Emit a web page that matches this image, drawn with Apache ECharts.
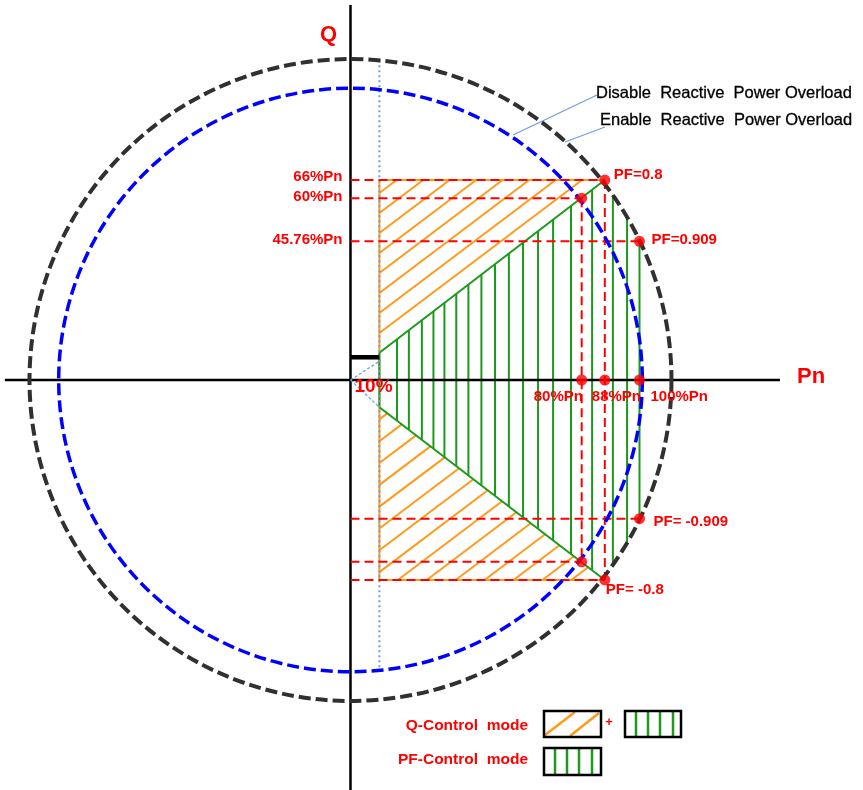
<!DOCTYPE html>
<html><head><meta charset="utf-8">
<script src="https://cdn.jsdelivr.net/npm/echarts@6/dist/echarts.min.js"></script>
<style>html,body{margin:0;padding:0;background:#fff}#c{width:863px;height:790px}</style>
</head><body><div id="c"></div>
<script>
// ---------- data (all values in % of Pn) ----------
const circleRadii = [110, 100];              // black: 110 %, blue: 100 %
const qLevels = [66, 60, 45.76];
const qLabels = ['66%Pn', '60%Pn', '45.76%Pn'];
const qLevelEndP = [88, 80, 100];            // where each Q level line ends
const pLevels = [80, 88, 100];
const pLabels = ['80%Pn', '88%Pn', '100%Pn'];
const pLevelEndQ = [60, 66, 0];              // vertical guide reach (+/-)
const minP = 10;                              // 10 % Pn
const minPLabel = '10%';
const pfStartQ = 9;                           // Q at 10 % Pn where PF region starts
const markerQ = 7.5;
const pfPoints = [[88, 66], [100, 45.76], [100, -45.76], [88, -66]];
const pfLabels = ['PF=0.8', 'PF=0.909', 'PF= -0.909', 'PF= -0.8'];
const limitPoints = [[80, 60], [80, -60]];
const pfHatchX = [16.1, 20.2, 24.7, 28.7, 32.5, 36.6, 40.8, 45.3, 50.0, 54.8, 59.7, 64.9, 70.1, 76.3, 83.6, 90.8, 95.7, 100];
const qCornerP = 88, qCornerQ = 66;

// ---------- scales (px per % Pn) ----------
const XMIN = -121.28, XMAX = 177.34, YMIN = -135.31, YMAX = 125.41;
const xs = 863 / (XMAX - XMIN), ys = 790 / (YMAX - YMIN);
const cs = 2.918;                             // circle radius px per %
function circleQ(r, p) { const v = (r * cs) * (r * cs) - (p * xs) * (p * xs); return v > 0 ? Math.sqrt(v) / ys : 0; }

// ---------- geometry helpers ----------
const RED = '#ff0000', ORANGE = '#ff9a1a', GREEN = '#1c9a1c', LBLUE = '#6f9fd6';
function clipLine(p, d, poly) {
  let t0 = -1e6, t1 = 1e6, area = 0;
  for (let i = 0; i < poly.length; i++) { const a = poly[i], b = poly[(i + 1) % poly.length]; area += a[0] * b[1] - b[0] * a[1]; }
  const sgn = area > 0 ? 1 : -1;
  for (let i = 0; i < poly.length; i++) {
    const a = poly[i], b = poly[(i + 1) % poly.length];
    const ex = b[0] - a[0], ey = b[1] - a[1];
    const nx = -ey * sgn, ny = ex * sgn;
    const num = nx * (p[0] - a[0]) + ny * (p[1] - a[1]);
    const den = nx * d[0] + ny * d[1];
    if (Math.abs(den) < 1e-12) { if (num < 0) return null; continue; }
    const t = -num / den;
    if (den > 0) t0 = Math.max(t0, t); else t1 = Math.min(t1, t);
  }
  if (t0 >= t1) return null;
  return [p[0] + t0 * d[0], p[1] + t0 * d[1], p[0] + t1 * d[0], p[1] + t1 * d[1]];
}
const R = circleRadii[0];
function pfTop(x) {
  const diag = pfStartQ + (qCornerQ - pfStartQ) * (x - minP) / (qCornerP - minP);
  return x <= qCornerP ? diag : Math.min(diag, circleQ(R, x));
}

// Orange (Q-control) hatch
const topTri = [[minP, pfStartQ], [minP, qCornerQ], [qCornerP, qCornerQ]];
const botTri = [[minP, -pfStartQ], [qCornerP, -qCornerQ], [minP, -qCornerQ]];
const hatchDir = [1, 0.72];
const orangeSegs = [];
for (let k = 0; k < 12; k++) { const s = clipLine([minP, 15.5 + k * 6.6], hatchDir, topTri); if (s) orangeSegs.push(s); }
for (let k = 0; k < 24; k++) { const s = clipLine([minP, -13 - k * 7.2], hatchDir, botTri); if (s) orangeSegs.push(s); }
const orangeBorder = [[minP, qCornerQ, qCornerP, qCornerQ], [minP, -qCornerQ, qCornerP, -qCornerQ], [minP, -qCornerQ, minP, qCornerQ]];

// Green (PF-control) region
const greenSegs = pfHatchX.map(x => [x, pfTop(x), x, -pfTop(x)]);
greenSegs.push([minP, pfStartQ, qCornerP, qCornerQ], [minP, -pfStartQ, qCornerP, -qCornerQ], [minP, -pfStartQ, minP, pfStartQ]);

// Red dashed guides
const redSegs = [];
qLevels.forEach((q, i) => { redSegs.push([0, q, qLevelEndP[i], q], [0, -q, qLevelEndP[i], -q]); });
pLevels.forEach((p, i) => { if (pLevelEndQ[i] > 0) redSegs.push([p, pLevelEndQ[i], p, -pLevelEndQ[i]]); });

const dots = limitPoints.concat(pfPoints, pLevels.map(p => [p, 0]));

// ---------- renderers ----------
function segSeries(name, data, style, z) {
  return {
    type: 'custom', name, z, silent: true, data, encode: { x: [0, 2], y: [1, 3] },
    renderItem: (params, api) => {
      const a = api.coord([api.value(0), api.value(1)]);
      const b = api.coord([api.value(2), api.value(3)]);
      return { type: 'line', shape: { x1: a[0], y1: a[1], x2: b[0], y2: b[1] }, style: Object.assign({ fill: null }, style) };
    }
  };
}
const circleStyles = [
  { stroke: '#303030', lineWidth: 4, lineDash: [12, 5] },
  { stroke: '#0000ff', lineWidth: 3.5, lineDash: [12, 5] }
];
const FONT = "bold 15px 'Liberation Sans', Arial, sans-serif";

// labels: [x, y, text, align, dx, dy]
const textItems = [];
const qOff = [-3, -1, -1];
qLevels.forEach((q, i) => textItems.push([0, q, qLabels[i], 'right', -8, qOff[i]]));
const pOff = [[-48, 17], [-13, 17], [11, 17]];
pLevels.forEach((p, i) => textItems.push([p, 0, pLabels[i], 'left', pOff[i][0], pOff[i][1]]));
const pfOff = [[9, -5], [12, -1], [14, 3], [1, 10]];
pfPoints.forEach((pt, i) => textItems.push([pt[0], pt[1], pfLabels[i], 'left', pfOff[i][0], pfOff[i][1]]));

const chart = echarts.init(document.getElementById('c'), null, { renderer: 'canvas' });
chart.setOption({
  animation: false,
  backgroundColor: '#fff',
  grid: { left: 0, right: 0, top: 0, bottom: 0, containLabel: false },
  xAxis: { type: 'value', min: XMIN, max: XMAX, show: false },
  yAxis: { type: 'value', min: YMIN, max: YMAX, show: false },
  series: [
    segSeries('qHatch', orangeSegs, { stroke: ORANGE, lineWidth: 2 }, 2),
    segSeries('qBorder', orangeBorder, { stroke: ORANGE, lineWidth: 2 }, 2),
    segSeries('pfHatch', greenSegs, { stroke: GREEN, lineWidth: 2 }, 3),
    segSeries('axes', [[-119.6, 0, 148.6, 0], [0, 123.8, 0, YMIN]], { stroke: '#000', lineWidth: 2.5 }, 4),
    segSeries('minP', [[minP, circleQ(circleRadii[0], minP), minP, -circleQ(circleRadii[1], minP)]], { stroke: LBLUE, lineWidth: 2, lineDash: [2, 3] }, 4),
    segSeries('minPRays', [[0, 0, minP, 6.2], [0, 0, minP, -pfStartQ]], { stroke: LBLUE, lineWidth: 1.2, lineDash: [3, 2] }, 4),
    segSeries('marker', [[0, markerQ, minP, markerQ]], { stroke: '#000', lineWidth: 4.5 }, 5),
    segSeries('guides', redSegs, { stroke: RED, lineWidth: 2, lineDash: [9, 5] }, 5),
    {
      type: 'custom', name: 'circles', z: 6, silent: true,
      data: circleRadii.map(r => [0, 0, r]),
      renderItem: (params, api) => {
        const c = api.coord([api.value(0), api.value(1)]);
        const r = api.value(2) * cs;
        return { type: 'circle', shape: { cx: c[0], cy: c[1], r }, style: Object.assign({ fill: 'none' }, circleStyles[params.dataIndex]) };
      }
    },
    { type: 'scatter', name: 'points', z: 7, silent: true, data: dots, symbolSize: 11, itemStyle: { color: RED } },
    {
      type: 'custom', name: 'labels', z: 8, silent: true,
      data: textItems.map((t, i) => [t[0], t[1], i]),
      renderItem: (params, api) => {
        const t = textItems[params.dataIndex];
        const c = api.coord([t[0], t[1]]);
        return { type: 'text', x: c[0] + t[4], y: c[1] + t[5], style: { text: t[2], font: FONT, fill: RED, align: t[3], verticalAlign: 'middle' } };
      }
    },
    {
      type: 'custom', name: 'minPLabel', z: 8, silent: true, data: [[0, 0]],
      renderItem: (params, api) => {
        const c = api.coord([api.value(0), api.value(1)]);
        return { type: 'text', x: c[0] + 4, y: c[1] + 7, style: { text: minPLabel, font: "bold 19px 'Liberation Sans', Arial, sans-serif", fill: RED, align: 'left', verticalAlign: 'middle' } };
      }
    }
  ],
  graphic: [
    { type: 'text', left: 320, top: 24, style: { text: 'Q', font: "bold 22px 'Liberation Sans', Arial, sans-serif", fill: RED } },
    { type: 'text', left: 797, top: 366, style: { text: 'Pn', font: "bold 22px 'Liberation Sans', Arial, sans-serif", fill: RED } },
    { type: 'line', shape: { x1: 597, y1: 95, x2: 513, y2: 135 }, style: { stroke: LBLUE, lineWidth: 1.2 } },
    { type: 'line', shape: { x1: 605, y1: 127, x2: 565, y2: 142 }, style: { stroke: LBLUE, lineWidth: 1.2 } },
    { type: 'text', x: 596, y: 93, style: { text: 'Disable  Reactive  Power Overload', font: "16.5px 'Liberation Sans', Arial, sans-serif", fill: '#000', stroke: '#000', lineWidth: 0.3, verticalAlign: 'middle' } },
    { type: 'text', x: 600, y: 120, style: { text: 'Enable  Reactive  Power Overload', font: "16.5px 'Liberation Sans', Arial, sans-serif", fill: '#000', stroke: '#000', lineWidth: 0.3, verticalAlign: 'middle' } },
    // legend
    { type: 'text', x: 528, y: 726, style: { text: 'Q-Control  mode', font: "bold 15.5px 'Liberation Sans', Arial, sans-serif", fill: RED, align: 'right', verticalAlign: 'middle' } },
    { type: 'text', x: 528, y: 760, style: { text: 'PF-Control  mode', font: "bold 15.5px 'Liberation Sans', Arial, sans-serif", fill: RED, align: 'right', verticalAlign: 'middle' } },
    { type: 'line', shape: { x1: 545, y1: 735, x2: 575, y2: 712 }, style: { stroke: ORANGE, lineWidth: 2.5 } },
    { type: 'line', shape: { x1: 570, y1: 736, x2: 599, y2: 713 }, style: { stroke: ORANGE, lineWidth: 2.5 } },
    { type: 'rect', shape: { x: 544, y: 711, width: 57, height: 26 }, style: { fill: 'none', stroke: '#000', lineWidth: 2.5 } },
    { type: 'text', x: 609, y: 722, style: { text: '+', font: "bold 13px 'Liberation Sans', Arial, sans-serif", fill: RED, align: 'center', verticalAlign: 'middle' } },
    ...[636, 648, 660, 673].map(x => ({ type: 'line', shape: { x1: x, y1: 712, x2: x, y2: 736 }, style: { stroke: GREEN, lineWidth: 2.5 } })),
    { type: 'rect', shape: { x: 625, y: 711, width: 56, height: 26 }, style: { fill: 'none', stroke: '#000', lineWidth: 2.5 } },
    ...[555, 567, 579, 592].map(x => ({ type: 'line', shape: { x1: x, y1: 749, x2: x, y2: 774 }, style: { stroke: GREEN, lineWidth: 2.5 } })),
    { type: 'rect', shape: { x: 544, y: 748, width: 57, height: 27 }, style: { fill: 'none', stroke: '#000', lineWidth: 2.5 } }
  ]
});
</script>
</body></html>
